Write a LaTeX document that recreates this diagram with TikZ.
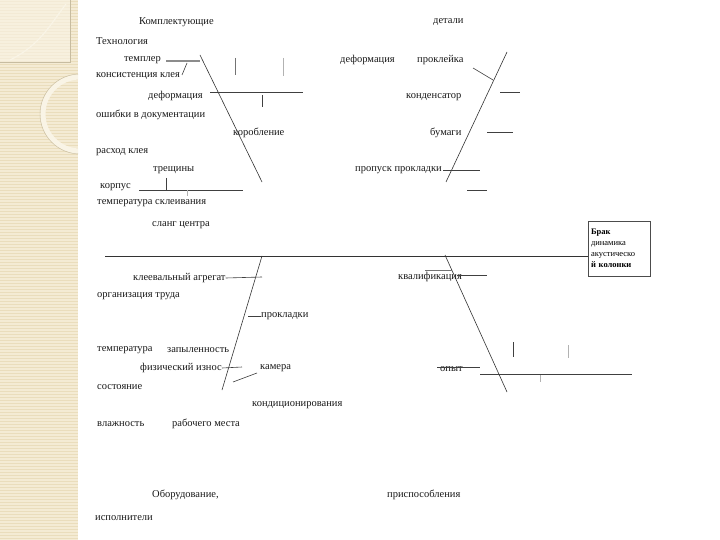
\documentclass[tikz,border=0pt]{standalone}
\usepackage{fontspec}
\setmainfont{Liberation Serif}
\usetikzlibrary{positioning,calc}
\definecolor{stripbg}{RGB}{244,235,212}
\definecolor{stripln}{RGB}{234,221,188}
\definecolor{striplt}{RGB}{249,244,230}
\tikzset{lbl/.style={inner sep=0pt,anchor=west,font=\fontsize{10.5}{12}\selectfont,text=black!90},
  bone/.style={black!80,line width=0.6pt},
  twig/.style={black!75,line width=0.6pt},
  faint/.style={black!30,line width=0.6pt},
  effbox/.style={draw=black!70,line width=0.6pt,minimum width=62pt,minimum height=55pt,text width=56pt,align=left,inner sep=3pt,font=\fontsize{8.5}{11}\selectfont}}

\begin{document}
\begin{tikzpicture}[x=1pt,y=-1pt]
\useasboundingbox (0,0) rectangle (720,540);
\fill[white] (0,0) rectangle (720,540);
% decorative strip
\fill[stripbg] (0,0) rectangle (78,540);
\foreach \yy in {1.5,4.5,...,540} \draw[stripln,line width=0.7pt] (0,\yy)--(78,\yy);
\fill[striplt,opacity=0.6] (0,0) rectangle (70,62);
\draw[stripln!85!black,line width=0.4pt] (0,62)--(70,62)--(70,0);
\draw[striplt,line width=1.2pt] (66,4) .. controls (50,25) and (40,45) .. (10,60);
\begin{scope}
\clip (0,0) rectangle (78,540);
\draw[striplt,line width=5pt] (80,114) circle (37);
\draw[stripln!85!black,line width=0.4pt] (80,114) circle (40);
\end{scope}

% effect and spine
\node[effbox] (eff) at (619,248.5) {\textbf{Брак}\\динамика\\акустическо\\\textbf{й колонки}};
\coordinate (spL) at (105,256);
\draw[bone] (spL) -- (spL -| eff.west);

% main bones
\coordinate (tlA) at (200,55);  \coordinate (tlB) at (262,182);
\coordinate (trA) at (507,52);  \coordinate (trB) at (446,182);
\coordinate (blA) at (262,256); \coordinate (blB) at (222,390);
\coordinate (brA) at (445,255); \coordinate (brB) at (507,392);
\draw[bone] (tlA)--(tlB);
\draw[bone] (trA)--(trB);
\draw[bone] (blA)--(blB);
\draw[bone] (brA)--(brB);

% headings
\node[lbl] (compl) at (139,22) {Комплектующие};
\node[lbl] (det) at (433,22) {детали};
\node[lbl] (tech) at (96,41) {Технология};
\node[lbl] (equip) at (152,495) {Оборудование,};
\node[lbl] (fixt) at (387,495) {приспособления};
\node[lbl] (staff) at (95,518) {исполнители};

% top left
\node[lbl,anchor=east] (tmpl) at (161,60) {темплер};
\draw[black!45,line width=2pt] (166,61)--(tlA|-0,61);
\draw[twig] (187,63)--(182,75);
\draw[black!55,line width=0.6pt] (235,58)--(235,75);
\draw[faint] (283,58)--(283,76);
\node[lbl] (cons) at (96,76) {консистенция клея};
\node[lbl] (def1) at (148,96) {деформация};
\draw[twig] (210,92)--(303,92);
\draw[twig] (262,95)--(262,107);
\node[lbl] (err) at (96,115) {ошибки в документации};
\node[lbl] (warp) at (233,133) {коробление};
\node[lbl] (glue) at (96,152) {расход клея};
\node[lbl] (crack) at (153,170) {трещины};
\draw[twig] (166,178)--(166,190);
\node[lbl] (body) at (100,187) {корпус};
\draw[twig] (139,190)--(243,190);
\draw[faint] (187,190)--(187,196);
\node[lbl] (tglue) at (97,203) {температура склеивания};
\node[lbl] (stand) at (152,225) {сланг центра};

% top right
\node[lbl] (def2) at (340,60) {деформация};
\node[lbl] (prokl) at (417,60) {проклейка};
\draw[twig] (473,68)--(493,80);
\node[lbl] (cond) at (406,97) {конденсатор};
\draw[twig] (500,92)--(520,92);
\node[lbl] (paper) at (430,133) {бумаги};
\draw[twig] (487,132)--(513,132);
\node[lbl] (skip) at (355,170) {пропуск прокладки};
\draw[twig] (443,170)--(480,170);
\draw[twig] (467,190)--(487,190);

% bottom left
\node[lbl] (agg) at (133,278) {клеевальный агрегат};
\draw[twig] (agg.east)--(262,277);
\node[lbl] (org) at (97,296) {организация труда};
\coordinate (gasL) at (248,316);
\node[lbl] (gas) at (261,316) {прокладки};
\draw[twig] (gasL)--(gas.west);
\node[lbl] (temp) at (97,350) {температура};
\node[lbl] (dust) at (167,350) {запыленность};
\node[lbl] (wear) at (140,368) {физический износ};
\draw[twig] (wear.east)--(242,367);
\node[lbl] (cham) at (260,368) {камера};
\draw[twig] (233,382)--(257,373);
\node[lbl] (state) at (97,387) {состояние};
\node[lbl] (aircon) at (252,405) {кондиционирования};
\node[lbl] (hum) at (97,424) {влажность};
\node[lbl] (work) at (172,424) {рабочего места};

% bottom right
\draw[black!55,line width=0.6pt] (425,270)--(452,270);
\node[lbl] (qual) at (398,277) {квалификация};
\draw[twig] (457,275)--(487,275);
\draw[twig] (513,342)--(513,357);
\draw[faint] (568,345)--(568,358);
\node[lbl] (exp) at (440,369) {опыт};
\draw[twig] (437,367)--(480,367);
\draw[twig] (480,374)--(632,374);
\draw[faint] (540,375)--(540,382);
\end{tikzpicture}
\end{document}
